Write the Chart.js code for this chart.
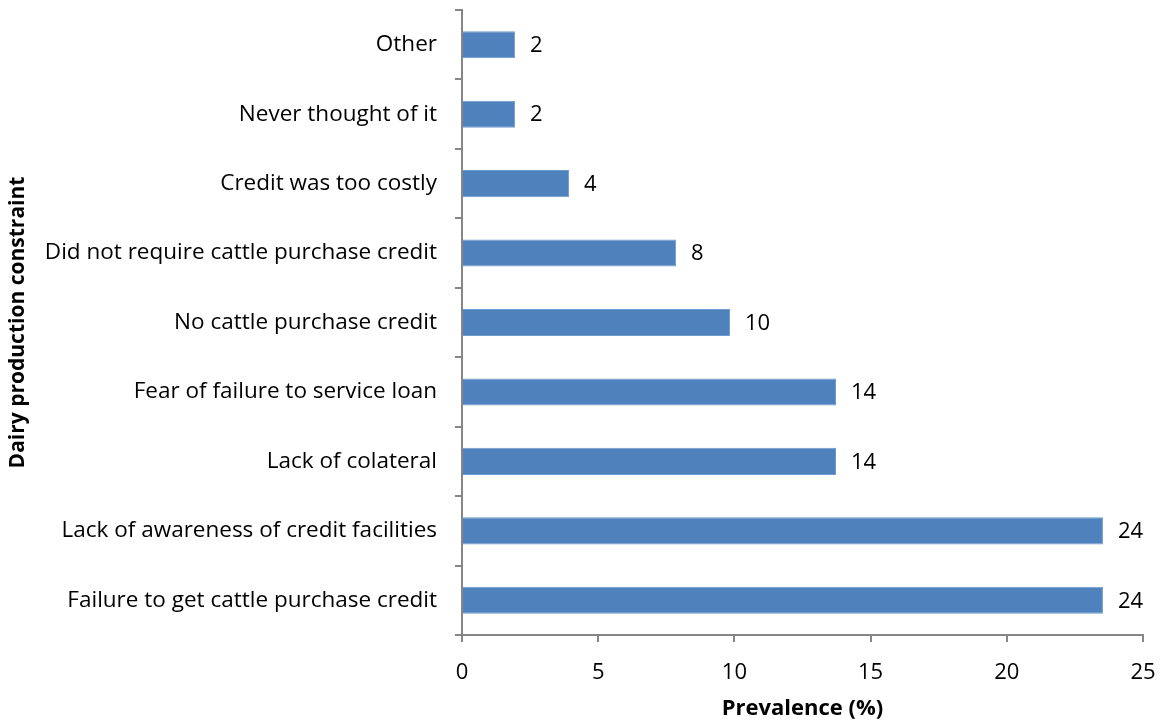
<!DOCTYPE html>
<html>
<head>
<meta charset="utf-8">
<script src="https://cdn.jsdelivr.net/npm/chart.js@4.4.0/dist/chart.umd.min.js"></script>
<style>
    html, body { margin: 0; padding: 0; background: #ffffff; }
    #wrap { width: 1162px; height: 722px; position: relative; }
</style>
</head>
<body>
<div id="wrap"><canvas id="chart"></canvas></div>
<script>
// ─── Data ───
const categories = [
    'Other',
    'Never thought of it',
    'Credit was too costly',
    'Did not require cattle purchase credit',
    'No cattle purchase credit',
    'Fear of failure to service loan',
    'Lack of colateral',
    'Lack of awareness of credit facilities',
    'Failure to get cattle purchase credit',
];
const prevalence = [1.95, 1.95, 3.93, 7.86, 9.84, 13.73, 13.73, 23.53, 23.53];
const valueLabels = ['2', '2', '4', '8', '10', '14', '14', '24', '24'];
const xTicks = [0, 5, 10, 15, 20, 25];

const FONT = '"Open Sans", Lato, sans-serif';
const AXIS_GREY = '#868686';

// value labels to the right of each bar
const barLabels = {
    id: 'barLabels',
    afterDatasetsDraw(chart) {
        const { ctx } = chart;
        const meta = chart.getDatasetMeta(0);
        ctx.save();
        ctx.font = `22px ${FONT}`;
        ctx.fillStyle = '#000000';
        ctx.textAlign = 'left';
        ctx.textBaseline = 'middle';
        meta.data.forEach((bar, i) => {
            ctx.fillText(valueLabels[i], bar.x + 15, bar.y + 1);
        });
        ctx.restore();
    },
};

new Chart(document.getElementById('chart'), {
    type: 'bar',
    data: {
        labels: categories,
        datasets: [{
            data: prevalence,
            backgroundColor: '#4F81BD',
            borderColor: '#6E9BD0',
            borderWidth: 1,
            borderSkipped: 'left',
            categoryPercentage: 1,
            barPercentage: 0.39,
        }],
    },
    options: {
        indexAxis: 'y',
        responsive: true,
        maintainAspectRatio: false,
        animation: false,
        layout: { padding: { top: 10, right: 19, left: 0, bottom: 0 } },
        plugins: {
            legend: { display: false },
            tooltip: { enabled: false },
        },
        scales: {
            x: {
                min: 0,
                max: 25,
                afterBuildTicks: (scale) => { scale.ticks = xTicks.map(v => ({ value: v })); },
                ticks: { color: '#000000', font: { family: FONT, size: 22 }, padding: 18 },
                grid: { drawOnChartArea: false, drawTicks: true, tickLength: 7, color: AXIS_GREY, lineWidth: 2 },
                border: { color: AXIS_GREY, width: 2 },
                title: {
                    display: true,
                    text: 'Prevalence (%)',
                    color: '#000000',
                    font: { family: FONT, size: 22, weight: 'bold' },
                    padding: { top: 0, bottom: 0 },
                },
                afterFit: (scale) => { scale.height = 87; scale.paddingLeft = 0; scale.paddingRight = 0; },
            },
            y: {
                ticks: { color: '#000000', font: { family: FONT, size: 22.5 }, padding: 18 },
                grid: { drawOnChartArea: false, drawTicks: true, tickLength: 7, color: AXIS_GREY, lineWidth: 2, offset: true },
                border: { color: AXIS_GREY, width: 2 },
                title: {
                    display: true,
                    text: 'Dairy production constraint',
                    color: '#000000',
                    font: { family: FONT, size: 21, weight: 'bold' },
                    padding: { top: 5, bottom: 0 },
                },
                afterFit: (scale) => { scale.width = 462; scale.paddingTop = 0; scale.paddingBottom = 0; },
            },
        },
    },
    plugins: [barLabels],
});
</script>
</body>
</html>
